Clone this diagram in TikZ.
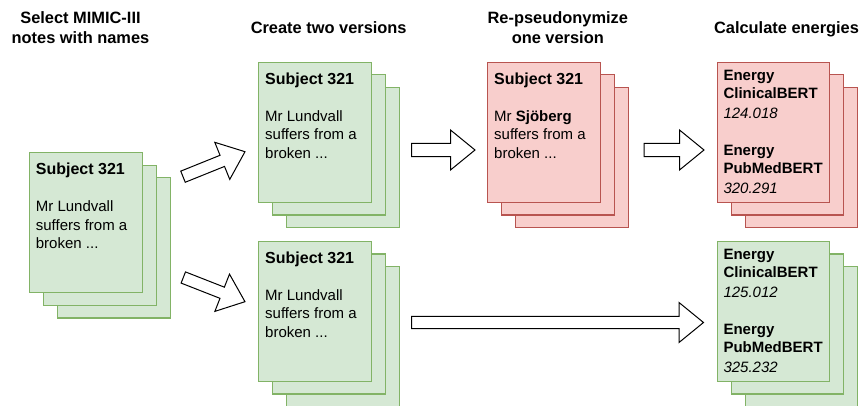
\documentclass[tikz,border=0pt]{standalone}
\usepackage{fontspec}
\setmainfont{Liberation Sans}
\usetikzlibrary{calc}
\definecolor{gfill}{HTML}{D5E8D4}
\definecolor{gline}{HTML}{82B366}
\definecolor{rfill}{HTML}{F8CECC}
\definecolor{rline}{HTML}{B85450}
\tikzset{
  sheet/.style={anchor=north west, inner sep=0pt, minimum width=112.5pt, minimum height=140pt, line width=1.1pt},
  greensheet/.style={sheet, draw=gline, fill=gfill},
  redsheet/.style={sheet, draw=rline, fill=rfill},
  txt/.style={anchor=base west, inner sep=0pt, font=\fontsize{15}{18}\selectfont},
  btxt/.style={txt, font=\fontsize{15}{18}\selectfont\bfseries},
  htxt/.style={txt, font=\fontsize{16}{19}\selectfont\bfseries},
  itxt/.style={txt, font=\fontsize{15}{18}\selectfont\itshape},
  title/.style={anchor=base, inner sep=0pt, font=\fontsize{16.4}{19}\selectfont\bfseries},
  blockarrow/.style={draw=black, fill=white, line width=1pt, line join=miter}
}
% stack of three sheets: #1 name, #2 x, #3 y, #4 style
\newcommand{\sheetstack}[4]{%
  \node[#4] (#1c) at ($(#2,#3)+(28,25.4)$) {};
  \node[#4] (#1b) at ($(#2,#3)+(14,12.7)$) {};
  \node[#4] (#1) at (#2,#3) {};
}
% block arrow: #1 tail, #2 tip, #3 half shaft width
\newcommand{\blkarrow}[3]{%
  \draw[blockarrow] let \p1=(#1), \p2=(#2),
    \n1={atan2(\y2-\y1,\x2-\x1)}, \n2={veclen(\x2-\x1,\y2-\y1)} in
    [shift={(\p1)}, rotate=\n1]
    (0pt,#3) -- (\n2-24.5pt,#3) -- (\n2-24.5pt,20pt) -- (\n2,0pt)
    -- (\n2-24.5pt,-20pt) -- (\n2-24.5pt,-#3) -- (0pt,-#3) -- cycle;
}
\begin{document}
\begin{tikzpicture}[x=1pt,y=-1pt]
\useasboundingbox (0,0) rectangle (861,406);

% titles
\node[title] (t1a) at (80.5,24) {Select MIMIC-III};
\node[title] (t1b) at (80.5,43.2) {notes with names};
\node[title] (t2) at (328.7,33.3) {Create two versions};
\node[title] (t3a) at (557.8,24) {Re-pseudonymize};
\node[title] (t3b) at (557.8,43.2) {one version};
\node[title] (t4) at (786.5,33.3) {Calculate energies};

% left stack
\sheetstack{s1}{29}{152}{greensheet}
\node[htxt] (s1t) at (35.7,174.5) {Subject 321};
\node[txt] (s1l1) at (35.7,211.5) {Mr Lundvall};
\node[txt] (s1l2) at (35.7,230) {suffers from a};
\node[txt] (s1l3) at (35.7,248.5) {broken ...};

% top middle stack
\sheetstack{s2}{258.3}{61.7}{greensheet}
\node[htxt] (s2t) at (265,84.2) {Subject 321};
\node[txt] (s2l1) at (265,121.2) {Mr Lundvall};
\node[txt] (s2l2) at (265,139.7) {suffers from a};
\node[txt] (s2l3) at (265,158.2) {broken ...};

% bottom middle stack
\sheetstack{s3}{258.3}{240.7}{greensheet}
\node[htxt] (s3t) at (265,263.2) {Subject 321};
\node[txt] (s3l1) at (265,300.2) {Mr Lundvall};
\node[txt] (s3l2) at (265,318.7) {suffers from a};
\node[txt] (s3l3) at (265,337.2) {broken ...};

% red stack
\sheetstack{s4}{487.3}{61.7}{redsheet}
\node[htxt] (s4t) at (494,84.2) {Subject 321};
\node[txt] (s4l1) at (494,121.2) {Mr \textbf{Sjöberg}};
\node[txt] (s4l2) at (494,139.7) {suffers from a};
\node[txt] (s4l3) at (494,158.2) {broken ...};

% energy red stack
\sheetstack{s5}{716.7}{61.7}{redsheet}
\node[btxt] (s5a) at (723.3,80.7) {Energy};
\node[btxt] (s5b) at (723.3,98.7) {ClinicalBERT};
\node[itxt] (s5c) at (723.3,118.5) {124.018};
\node[btxt] (s5d) at (723.3,156) {Energy};
\node[btxt] (s5e) at (723.3,174) {PubMedBERT};
\node[itxt] (s5f) at (723.3,193.8) {320.291};

% energy green stack
\sheetstack{s6}{716.7}{240.7}{greensheet}
\node[btxt] (s6a) at (723.3,259.5) {Energy};
\node[btxt] (s6b) at (723.3,277.5) {ClinicalBERT};
\node[itxt] (s6c) at (723.3,297.3) {125.012};
\node[btxt] (s6d) at (723.3,334.8) {Energy};
\node[btxt] (s6e) at (723.3,352.8) {PubMedBERT};
\node[itxt] (s6f) at (723.3,372.6) {325.232};

% arrows
\coordinate (a1s) at (183,176.7);
\coordinate (a1e) at (245,151.7);
\coordinate (a2s) at (183.3,277.5);
\coordinate (a2e) at (245,301.7);
\coordinate (a3s) at (411.7,150);
\coordinate (a3e) at (475,150);
\coordinate (a4s) at (644,150);
\coordinate (a4e) at (704,150);
\coordinate (a5s) at (411.7,322.5);
\coordinate (a5e) at (703.5,322.5);
\blkarrow{a1s}{a1e}{6pt}
\blkarrow{a2s}{a2e}{6pt}
\blkarrow{a3s}{a3e}{6.6pt}
\blkarrow{a4s}{a4e}{6.6pt}
\blkarrow{a5s}{a5e}{6.2pt}
\end{tikzpicture}
\end{document}
